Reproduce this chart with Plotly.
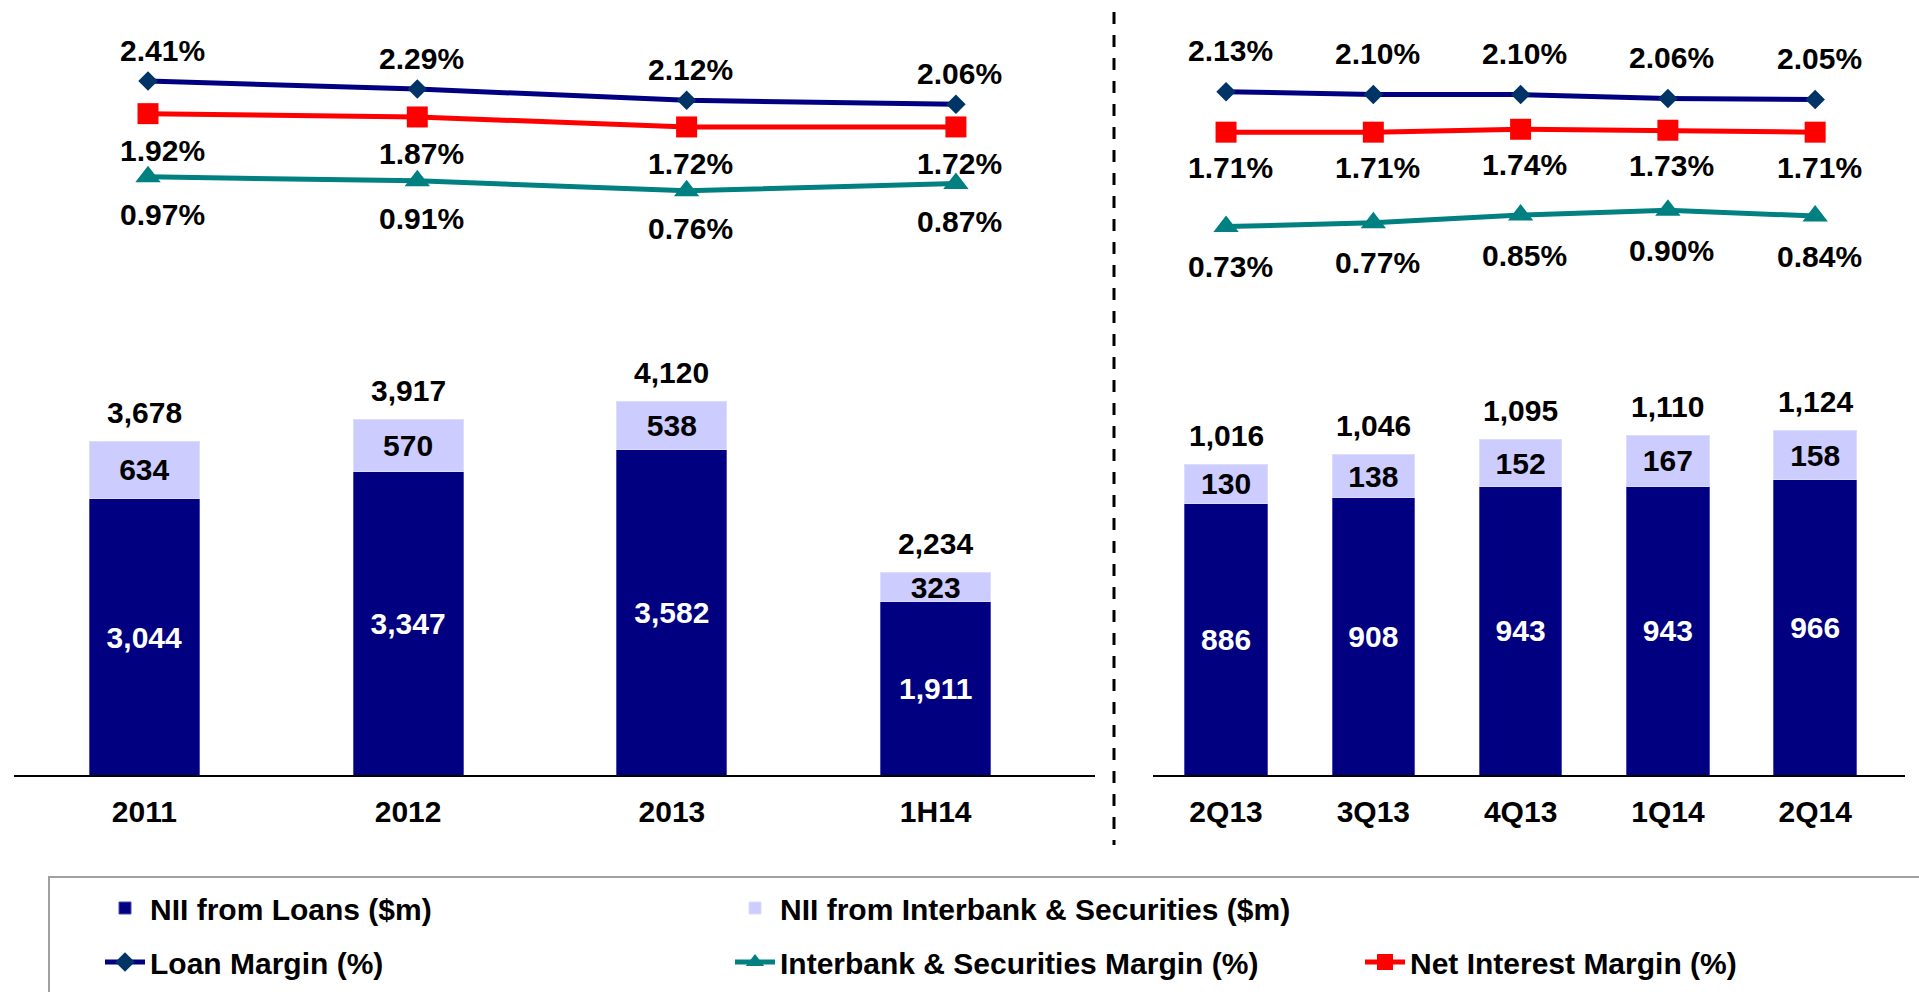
import plotly.graph_objects as go

# ---------------- data ----------------
years = ["2011", "2012", "2013", "1H14"]
nii_loans_y = [3044, 3347, 3582, 1911]
nii_ib_y = [634, 570, 538, 323]
loan_margin_y = [2.41, 2.29, 2.12, 2.06]
nim_y = [1.92, 1.87, 1.72, 1.72]
ib_margin_y = [0.97, 0.91, 0.76, 0.87]

quarters = ["2Q13", "3Q13", "4Q13", "1Q14", "2Q14"]
nii_loans_q = [886, 908, 943, 943, 966]
nii_ib_q = [130, 138, 152, 167, 158]
loan_margin_q = [2.13, 2.10, 2.10, 2.06, 2.05]
nim_q = [1.71, 1.71, 1.74, 1.73, 1.71]
ib_margin_q = [0.73, 0.77, 0.85, 0.90, 0.84]

# ---------------- style ----------------
W, H = 1919, 992
FONT = "Arial, 'Liberation Sans', sans-serif"
NAVY = "#000080"
LILAC = "#CCCCFF"
TEAL = "#008080"
RED = "#FF0000"
FS = 30
BW_LEFT = 0.417
BW_RIGHT = 0.56


def px_x(p):
    return p / W


def px_y(p):
    return 1 - p / H


base_y = px_y(775.3)
left_dom = [px_x(14), px_x(1095)]
right_dom = [px_x(1153), px_x(1905)]

fig = go.Figure()


def bar_pair(cats, loans, ib, xa, ya, width, show):
    fig.add_trace(go.Bar(x=cats, y=loans, name="NII from Loans ($m)", width=width,
                         marker=dict(color=NAVY, line=dict(color="#4a4ab8", width=1)),
                         text=[f"{v:,}" for v in loans], textposition="inside", insidetextanchor="middle",
                         textfont=dict(color="white", size=FS, family=FONT, weight="bold"), xaxis=xa, yaxis=ya,
                         legend="legend", legendgroup="a", showlegend=show))
    fig.add_trace(go.Bar(x=cats, y=ib, name="NII from Interbank & Securities ($m)", width=width,
                         marker=dict(color=LILAC, line=dict(color="#dcdcff", width=1)),
                         text=[f"{v:,}" for v in ib], textposition="inside", insidetextanchor="middle",
                         textfont=dict(color="black", size=FS, family=FONT, weight="bold"), xaxis=xa, yaxis=ya,
                         legend="legend", legendgroup="b", showlegend=show))


bar_pair(years, nii_loans_y, nii_ib_y, "x", "y", BW_LEFT, True)
bar_pair(quarters, nii_loans_q, nii_ib_q, "x2", "y2", BW_RIGHT, False)

line_specs = [
    ("Loan Margin (%)", loan_margin_y, loan_margin_q, NAVY, "diamond", 15, "#003366", "c"),
    ("Interbank & Securities Margin (%)", ib_margin_y, ib_margin_q, TEAL, "triangle-up", 22, TEAL, "d"),
    ("Net Interest Margin (%)", nim_y, nim_q, RED, "square", 21, RED, "e"),
]
for name, vy, vq, col, sym, size, mcol, grp in line_specs:
    fig.add_trace(go.Scatter(x=years, y=vy, name=name, mode="lines+markers",
                             line=dict(color=col, width=5), marker=dict(symbol=sym, size=size, color=mcol),
                             xaxis="x3", yaxis="y3", legend="legend2", legendgroup=grp))
    fig.add_trace(go.Scatter(x=quarters, y=vq, name=name, mode="lines+markers",
                             line=dict(color=col, width=5), marker=dict(symbol=sym, size=size, color=mcol),
                             xaxis="x2", yaxis="y4", showlegend=False, legendgroup=grp))

annotations = []
lab_font = dict(family=FONT, size=FS, color="black", weight="bold")
# totals (category axes: position by category index)
for cats, a, b, xr, yr in [(years, nii_loans_y, nii_ib_y, "x", "y"), (quarters, nii_loans_q, nii_ib_q, "x2", "y2")]:
    for i, (l, s) in enumerate(zip(a, b)):
        annotations.append(dict(x=i, y=l + s, xref=xr, yref=yr, text=f"{l + s:,}", showarrow=False,
                                yanchor="middle", yshift=29, font=lab_font))
# margin labels
for cats, vals, xr, yr, shift in [
    (years, loan_margin_y, "x3", "y3", 31), (years, nim_y, "x3", "y3", -37), (years, ib_margin_y, "x3", "y3", -38),
    (quarters, loan_margin_q, "x2", "y4", 41), (quarters, nim_q, "x2", "y4", -35), (quarters, ib_margin_q, "x2", "y4", -40),
]:
    for i, v in enumerate(vals):
        annotations.append(dict(x=i, y=v, xref=xr, yref=yr, text=f"{v:.2f}%", showarrow=False,
                                yanchor="middle", yshift=shift, xshift=(14 if (i == 0 and xr == "x3") else 4),
                                font=lab_font))

tickfont = dict(family=FONT, size=FS, color="black", weight="bold")
legfont = dict(family=FONT, size=FS, color="black", weight="bold")
fig.update_layout(
    width=W, height=H, margin=dict(l=0, r=0, t=0, b=0, autoexpand=False), paper_bgcolor="white",
    plot_bgcolor="rgba(0,0,0,0)",
    barmode="stack", showlegend=True,
    uniformtext=dict(minsize=FS, mode="show"),
    xaxis=dict(domain=left_dom, range=[-0.494, 3.604], anchor="y", showline=True, linecolor="black", linewidth=2,
               showgrid=False, zeroline=False, ticks="", tickfont=tickfont, ticklabelstandoff=9, fixedrange=True),
    yaxis=dict(domain=[base_y, 1], range=[0, 8534], anchor="x", visible=False, fixedrange=True),
    xaxis2=dict(domain=right_dom, range=[-0.496, 4.61], anchor="y2", showline=True, linecolor="black", linewidth=2,
                showgrid=False, zeroline=False, ticks="", tickfont=tickfont, ticklabelstandoff=9, fixedrange=True),
    yaxis2=dict(domain=[base_y, 1], range=[0, 2531], anchor="x2", visible=False, fixedrange=True),
    xaxis3=dict(overlaying="x", range=[-0.4976, 3.5165], anchor="y3", visible=False, fixedrange=True),
    yaxis3=dict(overlaying="y", range=[-8.03, 3.629], anchor="x3", visible=False, fixedrange=True),
    yaxis4=dict(overlaying="y2", range=[-4.962, 3.081], anchor="x2", visible=False, fixedrange=True),
    legend=dict(orientation="h", x=px_x(100), y=px_y(908), xanchor="left", yanchor="middle",
                entrywidth=575, entrywidthmode="pixels", font=legfont,
                bgcolor="rgba(0,0,0,0)", traceorder="normal", itemwidth=40),
    legend2=dict(orientation="h", x=px_x(100), y=px_y(962), xanchor="left", yanchor="middle",
                 entrywidth=575, entrywidthmode="pixels", font=legfont,
                 bgcolor="rgba(0,0,0,0)", traceorder="normal", itemwidth=40),
    annotations=annotations,
    shapes=[
        dict(type="line", xref="paper", yref="paper", x0=px_x(1114), x1=px_x(1114), y0=px_y(12), y1=px_y(845),
             line=dict(color="black", width=3, dash="12px,11px")),
        dict(type="rect", xref="paper", yref="paper", x0=px_x(49), x1=px_x(1940), y0=px_y(877), y1=px_y(1010),
             line=dict(color="#A0A0A0", width=2), fillcolor="rgba(0,0,0,0)"),
    ],
)
fig.update_traces(hoverinfo="skip")

fig.write_html("out.html", config={"displayModeBar": False},
               post_script="document.body.style.margin='0';document.body.style.overflow='hidden';")
